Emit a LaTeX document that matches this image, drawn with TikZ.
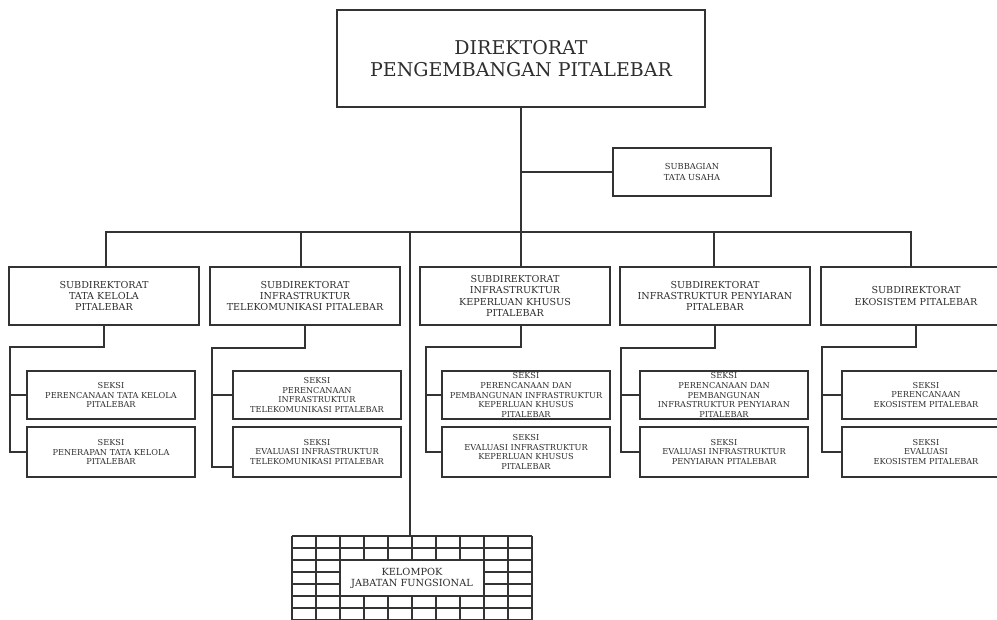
\documentclass[tikz,border=0pt]{standalone}
\usepackage{fontspec}
\setmainfont{DejaVu Serif}
\usetikzlibrary{calc}
\definecolor{ink}{HTML}{333333}
\definecolor{txt}{HTML}{2E2E2E}
\tikzset{
  orgbox/.style={draw=ink, line width=1.3pt, fill=white, inner sep=0pt, align=center, text=txt},
  topbox/.style={orgbox, minimum width=368pt, minimum height=97pt, font=\fontsize{19}{22}\selectfont},
  tubox/.style={orgbox, minimum width=158pt, minimum height=48pt, font=\fontsize{8.3}{11}\selectfont},
  subbox/.style={orgbox, minimum width=190pt, minimum height=58pt, font=\fontsize{9.6}{11.3}\selectfont},
  seksibox/.style={orgbox, minimum width=168pt, minimum height=48pt, font=\fontsize{8.2}{9.7}\selectfont},
  seksilow/.style={seksibox, minimum height=50pt},
  jfbox/.style={orgbox, minimum width=144pt, minimum height=36pt, font=\fontsize{9.8}{11}\selectfont},
  link/.style={draw=ink, line width=1.3pt},
  gridline/.style={draw=ink, line width=1.2pt},
}
\begin{document}
\begin{tikzpicture}[x=1pt, y=-1pt]
\useasboundingbox (0,0) rectangle (997,620);
\fill[white] (0,0) rectangle (997,620);
\clip (0,0) rectangle (997,620);

% directorate and administrative unit
\node[topbox] (dir) at (521,58.5) {DIREKTORAT\\PENGEMBANGAN PITALEBAR};
\node[tubox] (tu) at (692,172) {SUBBAGIAN\\TATA USAHA};

% sub-directorates
\node[subbox] (sd1) at (104,296) {SUBDIREKTORAT\\TATA KELOLA\\PITALEBAR};
\node[subbox] (sd2) at (305,296) {SUBDIREKTORAT\\INFRASTRUKTUR\\TELEKOMUNIKASI PITALEBAR};
\node[subbox] (sd3) at (515,296) {SUBDIREKTORAT\\INFRASTRUKTUR\\KEPERLUAN KHUSUS\\PITALEBAR};
\node[subbox] (sd4) at (715,296) {SUBDIREKTORAT\\INFRASTRUKTUR PENYIARAN\\PITALEBAR};
\node[subbox] (sd5) at (916,296) {SUBDIREKTORAT\\EKOSISTEM PITALEBAR};

% sections
\node[seksibox] (k1a) at (111,395) {SEKSI\\PERENCANAAN TATA KELOLA\\PITALEBAR};
\node[seksilow] (k1b) at (111,452) {SEKSI\\PENERAPAN TATA KELOLA\\PITALEBAR};
\node[seksibox] (k2a) at (317,395) {SEKSI\\PERENCANAAN\\INFRASTRUKTUR\\TELEKOMUNIKASI PITALEBAR};
\node[seksilow] (k2b) at (317,452) {SEKSI\\EVALUASI INFRASTRUKTUR\\TELEKOMUNIKASI PITALEBAR};
\node[seksibox] (k3a) at (526,395) {SEKSI\\PERENCANAAN DAN\\PEMBANGUNAN INFRASTRUKTUR\\KEPERLUAN KHUSUS\\PITALEBAR};
\node[seksilow] (k3b) at (526,452) {SEKSI\\EVALUASI INFRASTRUKTUR\\KEPERLUAN KHUSUS\\PITALEBAR};
\node[seksibox] (k4a) at (724,395) {SEKSI\\PERENCANAAN DAN\\PEMBANGUNAN\\INFRASTRUKTUR PENYIARAN\\PITALEBAR};
\node[seksilow] (k4b) at (724,452) {SEKSI\\EVALUASI INFRASTRUKTUR\\PENYIARAN PITALEBAR};
\node[seksibox] (k5a) at (926,395) {SEKSI\\PERENCANAAN\\EKOSISTEM PITALEBAR};
\node[seksilow] (k5b) at (926,452) {SEKSI\\EVALUASI\\EKOSISTEM PITALEBAR};

% functional group: grid of cells with a title panel
\node[minimum width=240pt, minimum height=84pt, inner sep=0pt] (grid) at (412,578) {};
\foreach \i in {0,...,10}
  \draw[gridline] (292+\i*24,536) -- (292+\i*24,625);
\foreach \j in {0,...,7}
  \draw[gridline] (292,536+\j*12) -- (532,536+\j*12);
\node[jfbox] (jf) at (412,578) {KELOMPOK\\JABATAN FUNGSIONAL};

% top-level connectors
\coordinate (busL) at (106,232);
\coordinate (busR) at (911,232);
\coordinate (d2) at (301,232);
\coordinate (d4) at (714,232);
\coordinate (dk) at (410,232);
\draw[link] (dir.south) -- (dir.south |- sd3.north);
\draw[link] (dir.south |- tu.west) -- (tu.west);
\draw[link] (busL |- sd1.north) -- (busL) -- (busR) -- (busR |- sd5.north);
\draw[link] (d2) -- (d2 |- sd2.north);
\draw[link] (d4) -- (d4 |- sd4.north);
\draw[link] (dk) -- (dk |- grid.north);

% section brackets
\draw[link] (sd1.south) |- (10,347) |- (k1b.west);
\draw[link] (10,0 |- k1a.west) -- (k1a.west);

\draw[link] (sd2.south) |- (212,348) -- (212,467) -- (k2b.west |- 0,467);
\draw[link] (212,0 |- k2a.west) -- (k2a.west);

\draw[link] (dir.south |- sd3.south) |- (426,347) |- (k3b.west);
\draw[link] (426,0 |- k3a.west) -- (k3a.west);

\draw[link] (sd4.south) |- (621,348) |- (k4b.west);
\draw[link] (621,0 |- k4a.west) -- (k4a.west);

\draw[link] (sd5.south) |- (822,347) |- (k5b.west);
\draw[link] (822,0 |- k5a.west) -- (k5a.west);
\end{tikzpicture}
\end{document}
